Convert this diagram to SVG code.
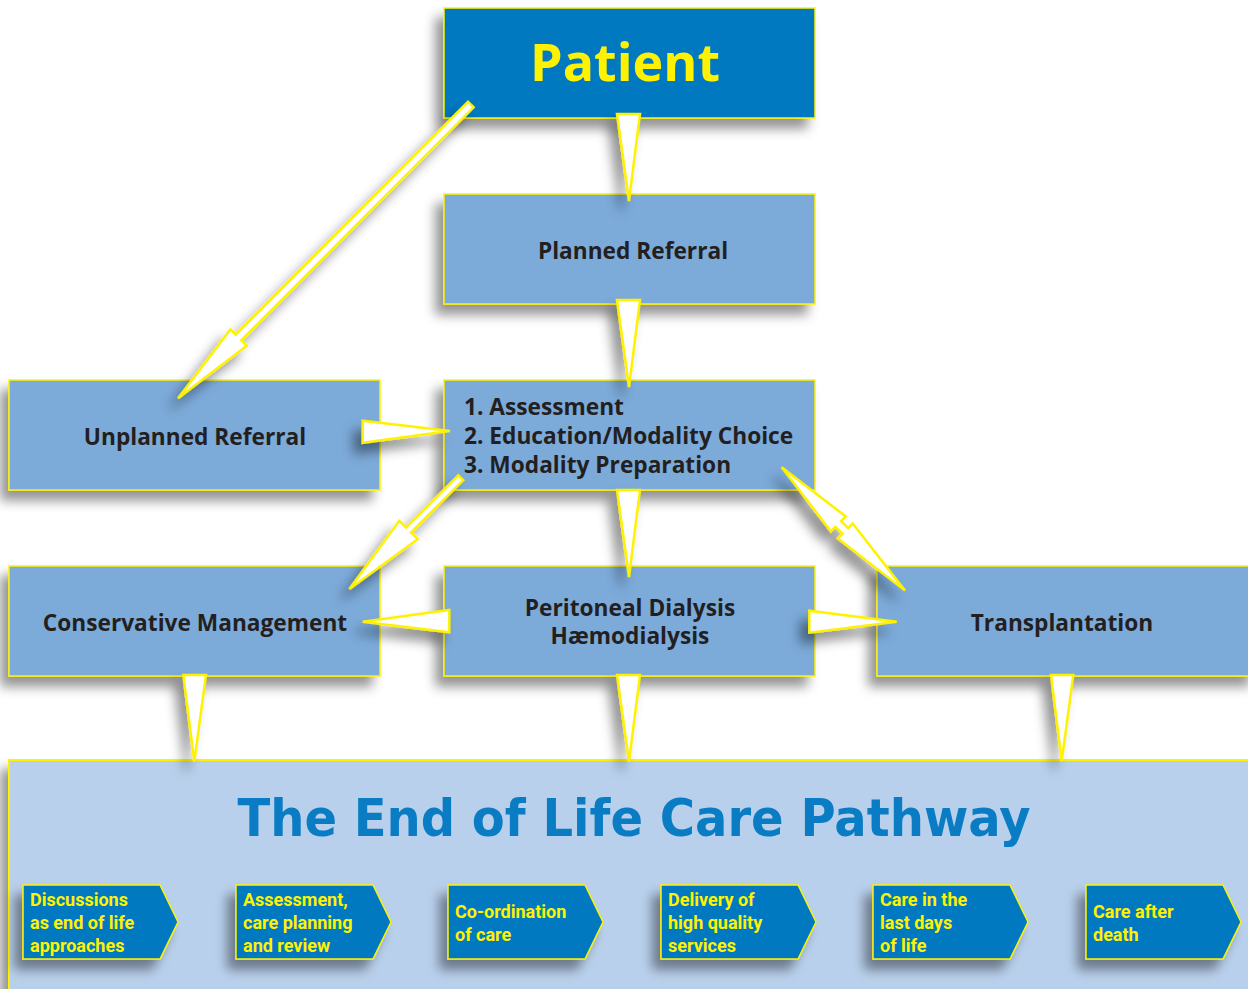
<svg xmlns="http://www.w3.org/2000/svg" width="1248" height="989" viewBox="0 0 1248 989">
<defs>
<style>
.box{stroke:#FFF200;stroke-width:1.5}
.dark{fill:#0079C1}
.mid{fill:#7BAAD9}
.lbl{font-family:"Open Sans","Noto Sans",sans-serif;font-weight:700;font-size:22.7px;fill:#231F20}
.arr{fill:#FFFFFF;stroke:#FFF200;stroke-width:2.5;stroke-linejoin:miter}
.chev{fill:#0079C1;stroke:#FFF200;stroke-width:1.5}
.ct{font-family:Roboto,"Open Sans",sans-serif;font-weight:700;font-size:18px;fill:#FFF200}
</style>
<filter id="sh" x="-20%" y="-30%" width="140%" height="170%">
<feGaussianBlur in="SourceAlpha" stdDeviation="6"/>
<feOffset dx="-8" dy="10" result="b"/>
<feFlood flood-color="#000" flood-opacity="0.42"/>
<feComposite in2="b" operator="in"/>
<feMerge><feMergeNode/><feMergeNode in="SourceGraphic"/></feMerge>
</filter>
</defs>
<rect width="1248" height="989" fill="#FFFFFF"/>

<g id="pathway" filter="url(#sh)">
<rect x="9" y="760" width="1250" height="240" fill="#B9D0EC" stroke="#FFF200" stroke-width="2"/>
</g>
<g id="pathway-title">
<text x="634" y="836" text-anchor="middle" font-family="'DejaVu Sans',Verdana,sans-serif" font-weight="700" font-size="52" fill="#0A7CC4" textLength="793" lengthAdjust="spacingAndGlyphs">The End of Life Care Pathway</text>
</g>

<g id="step1" filter="url(#sh)">
<polygon class="chev" points="23,885 160,885 178,922 160,959 23,959"/>
</g>
<g id="step1-text">
<text class="ct" x="30" y="906">Discussions</text>
<text class="ct" x="30" y="929">as end of life</text>
<text class="ct" x="30" y="952">approaches</text>
</g>
<g id="step2" filter="url(#sh)">
<polygon class="chev" points="236,885 373,885 391,922 373,959 236,959"/>
</g>
<g id="step2-text">
<text class="ct" x="243" y="906">Assessment,</text>
<text class="ct" x="243" y="929">care planning</text>
<text class="ct" x="243" y="952">and review</text>
</g>
<g id="step3" filter="url(#sh)">
<polygon class="chev" points="448,885 585,885 603,922 585,959 448,959"/>
</g>
<g id="step3-text">
<text class="ct" x="455" y="918">Co-ordination</text>
<text class="ct" x="455" y="941">of care</text>
</g>
<g id="step4" filter="url(#sh)">
<polygon class="chev" points="661,885 798,885 816,922 798,959 661,959"/>
</g>
<g id="step4-text">
<text class="ct" x="668" y="906">Delivery of</text>
<text class="ct" x="668" y="929">high quality</text>
<text class="ct" x="668" y="952">services</text>
</g>
<g id="step5" filter="url(#sh)">
<polygon class="chev" points="873,885 1010,885 1028,922 1010,959 873,959"/>
</g>
<g id="step5-text">
<text class="ct" x="880" y="906">Care in the</text>
<text class="ct" x="880" y="929">last days</text>
<text class="ct" x="880" y="952">of life</text>
</g>
<g id="step6" filter="url(#sh)">
<polygon class="chev" points="1086,885 1223,885 1241,922 1223,959 1086,959"/>
</g>
<g id="step6-text">
<text class="ct" x="1093" y="918">Care after</text>
<text class="ct" x="1093" y="941">death</text>
</g>

<g id="patient">
<rect class="box dark" x="444" y="8" width="371" height="110" filter="url(#sh)"/>
<text x="625" y="81" text-anchor="middle" font-family="'Open Sans','Noto Sans',sans-serif" font-weight="700" font-size="52" fill="#FFF200">Patient</text>
</g>
<g id="planned">
<rect class="box mid" x="444" y="194" width="371" height="110" filter="url(#sh)"/>
<text class="lbl" x="633" y="259" text-anchor="middle">Planned Referral</text>
</g>
<g id="unplanned">
<rect class="box mid" x="9" y="380" width="371" height="110" filter="url(#sh)"/>
<text class="lbl" x="195" y="445" text-anchor="middle">Unplanned Referral</text>
</g>
<g id="assessment">
<rect class="box mid" x="444" y="380" width="371" height="110" filter="url(#sh)"/>
<text class="lbl" x="464" y="415">1. Assessment</text>
<text class="lbl" x="464" y="444">2. Education/Modality Choice</text>
<text class="lbl" x="464" y="473">3. Modality Preparation</text>
</g>
<g id="conservative">
<rect class="box mid" x="9" y="566" width="371" height="110" filter="url(#sh)"/>
<text class="lbl" x="195" y="631" text-anchor="middle">Conservative Management</text>
</g>
<g id="dialysis">
<rect class="box mid" x="444" y="566" width="371" height="110" filter="url(#sh)"/>
<text class="lbl" x="630" y="616" text-anchor="middle">Peritoneal Dialysis</text>
<text class="lbl" x="630" y="644" text-anchor="middle">Hæmodialysis</text>
</g>
<g id="transplantation">
<rect class="box mid" x="877" y="566" width="380" height="110" filter="url(#sh)"/>
<text class="lbl" x="1062" y="631" text-anchor="middle">Transplantation</text>
</g>

<g id="connectors" filter="url(#sh)">
<polygon class="arr" points="617,114 640,114 629,201"/>
<polygon class="arr" points="617,300 640,300 629,387"/>
<polygon class="arr" points="617,490 640,490 629,577"/>
<polygon class="arr" points="362.7,420.7 362.7,442.7 450,431"/>
<polygon class="arr" points="449.3,610 449.3,632.3 362.7,621.7"/>
<polygon class="arr" points="809.3,610.7 809.3,632.7 896.7,621.7"/>
<polygon class="arr" points="183.3,675 206,675 194.3,761.5"/>
<polygon class="arr" points="617,675 640,675 629,761.5"/>
<polygon class="arr" points="1051,675 1073.3,675 1061.7,761"/>
<polygon class="arr" transform="translate(470.8,104.5) rotate(134.9)" points="0,-4 329,-4 329,-11.5 414.6,0 329,11.5 329,4 0,4"/>
<polygon class="arr" transform="translate(460.8,477.7) rotate(135)" points="0,-3.5 74,-3.5 74,-13 157.5,0 74,13 74,3.5 0,3.5"/>
<polygon class="arr" transform="translate(781.7,467.3) rotate(45)" points="0,0 80,-10.5 80,-4 90,-4 90,-10.5 174.4,0 90,10.5 90,4 80,4 80,10.5"/>
</g>
</svg>
